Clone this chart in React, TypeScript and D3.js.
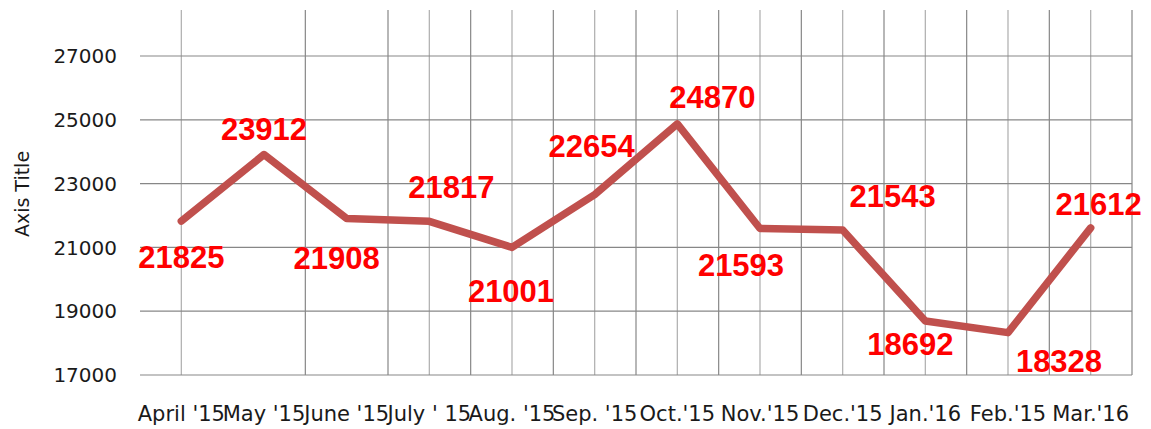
import React from "react";
import * as d3 from "d3";

const categories = [
  "April '15", "May '15", "June '15", "July ' 15", "Aug. '15", "Sep. '15",
  "Oct.'15", "Nov.'15", "Dec.'15", "Jan.'16", "Feb.'15", "Mar.'16",
];
const values = [21825, 23912, 21908, 21817, 21001, 22654, 24870, 21593, 21543, 18692, 18328, 21612];
const yTicks = [17000, 19000, 21000, 23000, 25000, 27000];

// label placement offsets (dx, dy in px relative to the point), as in the reference
const labelOffsets: [number, number][] = [
  [0, 47], [0, -15], [-10, 51], [22, -23], [-1, 55], [-3, -38],
  [35, -16], [-19, 48], [50, -23], [-15, 34], [51, 39], [8, -13],
];
// gridline half-band indices not drawn in the reference
const hiddenGrid = new Set([0, 2, 3, 5]);

const W = 1151;
const H = 429;
const left = 140;
const right = 1132;
const top = 10;

export default function App() {
  const x = d3.scaleBand<string>().domain(categories).range([left, right]).padding(0);
  const y = d3.scaleLinear().domain([17000, 27000]).range([375, 56]);
  const bw = x.bandwidth();
  const cx = (c: string) => (x(c) as number) + bw / 2;

  const gridXs: { x: number; center: boolean; k: number }[] = [];
  for (let k = 0; k <= categories.length * 2; k++) {
    gridXs.push({ x: left + (bw / 2) * k, center: k % 2 === 1, k });
  }

  const line = d3
    .line<number>()
    .x((_, i) => cx(categories[i]))
    .y((d) => y(d));

  return (
    <svg width={W} height={H} style={{ position: "absolute", left: 0, top: 0, background: "#fff" }}>
      {gridXs
        .filter((g) => !hiddenGrid.has(g.k))
        .map((g) => (
          <line
            key={"v" + g.k}
            x1={g.x}
            x2={g.x}
            y1={top}
            y2={y(17000)}
            stroke={g.center ? "#b3b3b3" : "#878787"}
            strokeWidth={g.center ? 1.3 : 1.2}
          />
        ))}
      {yTicks.map((t) => (
        <line key={"h" + t} x1={left} x2={right} y1={y(t)} y2={y(t)} stroke="#878787" strokeWidth={1.2} />
      ))}
      {yTicks.map((t) => (
        <text
          key={"yt" + t}
          x={117}
          y={y(t)}
          dy="0.36em"
          textAnchor="end"
          fontFamily="DejaVu Sans"
          fontSize={20}
          fill="#1a1a1a"
        >
          {t}
        </text>
      ))}
      <text
        transform={`translate(29,194) rotate(-90)`}
        textAnchor="middle"
        fontFamily="DejaVu Sans"
        fontSize={19}
        fill="#1a1a1a"
      >
        Axis Title
      </text>
      {categories.map((c) => (
        <text
          key={"xt" + c}
          x={cx(c)}
          y={421}
          textAnchor="middle"
          fontFamily="DejaVu Sans"
          fontSize={21}
          fill="#1a1a1a"
        >
          {c}
        </text>
      ))}
      <path
        d={line(values) || ""}
        fill="none"
        stroke="#c0504d"
        strokeWidth={7.5}
        strokeLinejoin="round"
        strokeLinecap="round"
      />
      {values.map((v, i) => (
        <text
          key={"dl" + i}
          x={cx(categories[i]) + labelOffsets[i][0]}
          y={y(v) + labelOffsets[i][1]}
          textAnchor="middle"
          fontFamily="Liberation Sans"
          fontWeight="bold"
          fontSize={31}
          fill="#ff0000"
        >
          {v}
        </text>
      ))}
    </svg>
  );
}
